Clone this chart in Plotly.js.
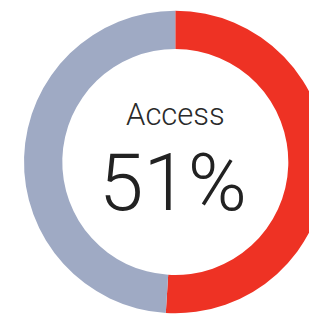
<!DOCTYPE html>
<html>
<head>
<meta charset="utf-8">
<script src="https://cdn.plot.ly/plotly-3.0.1.min.js"></script>
<style>
html, body { margin: 0; padding: 0; overflow: hidden; background: #fff; }
#chart { width: 350px; height: 316px; }
</style>
</head>
<body>
<div id="chart"></div>
<script>
const categories = ["Access", "Other"];
const values = [51, 49];
const colors = ["#EE3224", "#9FAAC4"];
const centerLabel = "Access";
const centerValue = "51%";

const W = 350, H = 316;
const trace = {
  type: "pie",
  labels: categories,
  values: values,
  marker: { colors: colors, line: { width: 0 } },
  hole: 0.747,
  sort: false,
  direction: "clockwise",
  rotation: 0,
  textinfo: "none",
  hoverinfo: "none",
  showlegend: false,
  domain: { x: [24 / W, 326.6 / W], y: [1 - 313.3 / H, 1 - 10.7 / H] }
};

const layout = {
  width: W, height: H,
  margin: { l: 0, r: 0, t: 0, b: 0 },
  paper_bgcolor: "#ffffff",
  showlegend: false,
  annotations: [
    { text: centerLabel, x: 175 / W, y: 1 - 115 / H, xref: "paper", yref: "paper",
      xanchor: "center", yanchor: "middle", showarrow: false,
      font: { family: "Roboto, 'Liberation Sans', sans-serif", size: 31, color: "#2a2a2a", weight: 300 } },
    { text: centerValue, x: 173 / W, y: 1 - 182.5 / H, xref: "paper", yref: "paper",
      xanchor: "center", yanchor: "middle", showarrow: false,
      font: { family: "Roboto, 'Liberation Sans', sans-serif", size: 80, color: "#222222", weight: 300 } }
  ]
};

Plotly.newPlot("chart", [trace], layout, { displayModeBar: false, staticPlot: true });
</script>
</body>
</html>
